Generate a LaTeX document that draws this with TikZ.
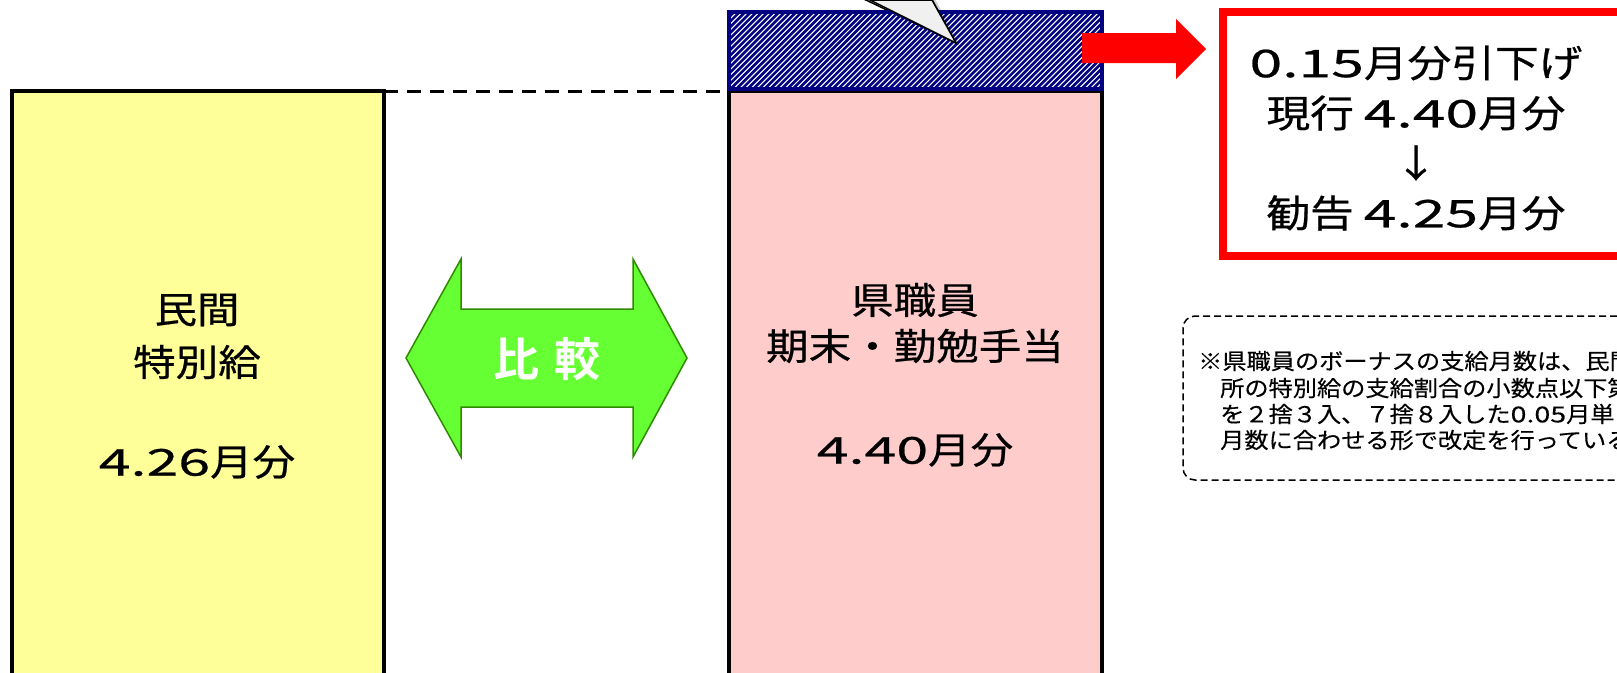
\documentclass[tikz,border=0pt]{standalone}
\usepackage{fontspec}
\newfontfamily\jpfont[FakeStretch=1.15,FakeBold=0.6]{Noto Sans CJK JP}
\newfontfamily\numfont[FakeStretch=1.55,FakeBold=0.6]{Noto Sans CJK JP}
\newfontfamily\notefont[FakeStretch=1.1,FakeBold=0.3]{Noto Sans CJK JP}
\newfontfamily\notenum[FakeStretch=1.3,FakeBold=0.3]{Noto Sans CJK JP}
\newfontfamily\boldjp{Noto Sans CJK JP Bold}
\definecolor{yellowbox}{HTML}{FFFF99}
\definecolor{pinkbox}{HTML}{FFCCCC}
\definecolor{navyhatch}{HTML}{000080}
\definecolor{greenfill}{HTML}{66FF33}
\definecolor{greenline}{HTML}{2E8B00}
\definecolor{calloutgray}{HTML}{F0F0F0}
\tikzset{
  bar/.style={draw=black, line width=4pt, inner sep=0pt, outer sep=0pt, anchor=north west},
  bigtext/.style={inner sep=0pt, font=\jpfont\fontsize{37}{40}\selectfont},
  redtext/.style={inner sep=0pt, font=\jpfont\fontsize{38}{40}\selectfont},
  notetext/.style={inner sep=0pt, anchor=west, font=\notefont\fontsize{22}{26}\selectfont},
  dashlink/.style={line width=3pt, dash pattern=on 14pt off 9pt},
}
\begin{document}
\begin{tikzpicture}[x=1pt,y=-1pt]
\useasboundingbox (0,0) rectangle (1617,672);
% callout pointer (body above the picture)
\fill[black, opacity=0.18] (828,-20) -- (960,46) -- (925,-20) -- cycle;
\filldraw[fill=calloutgray, draw=black, line width=1.5pt, line join=miter] (824,-20) -- (956,43) -- (921,-20) -- cycle;
% private sector bar
\node[bar, fill=yellowbox, minimum width=372pt, minimum height=640pt] (minkan) at (12,91) {};
% prefectural staff bar
\node[bar, fill=pinkbox, minimum width=373pt, minimum height=640pt] (ken) at (729,91) {};
% hatched excess
\begin{scope}
  \clip (729,12) rectangle (1102,89);
  \foreach \i in {0,...,85} \draw[navyhatch, line width=2.6pt] (640+\i*5.66,89) -- ++(78,-78);
\end{scope}
\node[bar, draw=navyhatch, minimum width=373pt, minimum height=77pt] (excess) at (729,12) {};
% re-draw pointer tip over hatch
\filldraw[fill=calloutgray, draw=black, line width=1.5pt] (870,0) -- (956,43) -- (932,0) -- cycle;
% dashed level line
\draw[dashlink] (minkan.north east) -- (ken.north west);
% comparison double arrow
\filldraw[fill=greenfill, draw=greenline, line width=1.5pt]
  (406,358) -- (461,259) -- (461,309) -- (633,309) -- (633,259) -- (687,358)
  -- (633,457) -- (633,407) -- (461,407) -- (461,457) -- cycle;
\node[inner sep=0pt, text=white, font=\boldjp\fontsize{46}{46}\selectfont] (hikaku) at (547,359) {比\hspace{15pt}較};
% texts in bars
\node[bigtext] (m1) at (197,310) {民間};
\node[bigtext] (m2) at (197,362) {特別給};
\node[bigtext] (m3) at (197,462) {{\numfont 4.26}月分};
\node[bigtext] (k1) at (915,300) {県職員};
\node[bigtext] (k2) at (915,346) {期末・勤勉手当};
\node[bigtext] (k3) at (915,450) {{\numfont 4.40}月分};
% red block arrow
\fill[red] (1082,33) -- (1176,33) -- (1176,19) -- (1206,49) -- (1176,79) -- (1176,63) -- (1082,63) -- cycle;
% recommendation box
\node[draw=red, line width=8pt, fill=white, inner sep=0pt, outer sep=0pt, anchor=north west, minimum width=600pt, minimum height=244pt] (kankoku) at (1223,12) {};
\node[redtext] (r1) at (1416,63) {{\numfont 0.15}月分引下げ};
\node[redtext] (r2) at (1416,113) {現行 {\numfont 4.40}月分};
\node[redtext] (r3) at (1416,163) {↓};
\node[redtext] (r4) at (1416,213) {勧告 {\numfont 4.25}月分};
% note box
\node[draw=black, line width=1.5pt, dash pattern=on 7pt off 4pt, rounded corners=12pt, inner sep=0pt, outer sep=0pt, anchor=north west, minimum width=600pt, minimum height=164pt] (note) at (1183,316) {};
\node[notetext] (n1) at (1198,361) {※県職員のボーナスの支給月数は、民間};
\node[notetext] (n2) at (1220,388) {所の特別給の支給割合の小数点以下第};
\node[notetext] (n3) at (1220,414) {を２捨３入、７捨８入した{\notenum 0.05}月単};
\node[notetext] (n4) at (1220,440) {月数に合わせる形で改定を行っている};
\end{tikzpicture}
\end{document}
